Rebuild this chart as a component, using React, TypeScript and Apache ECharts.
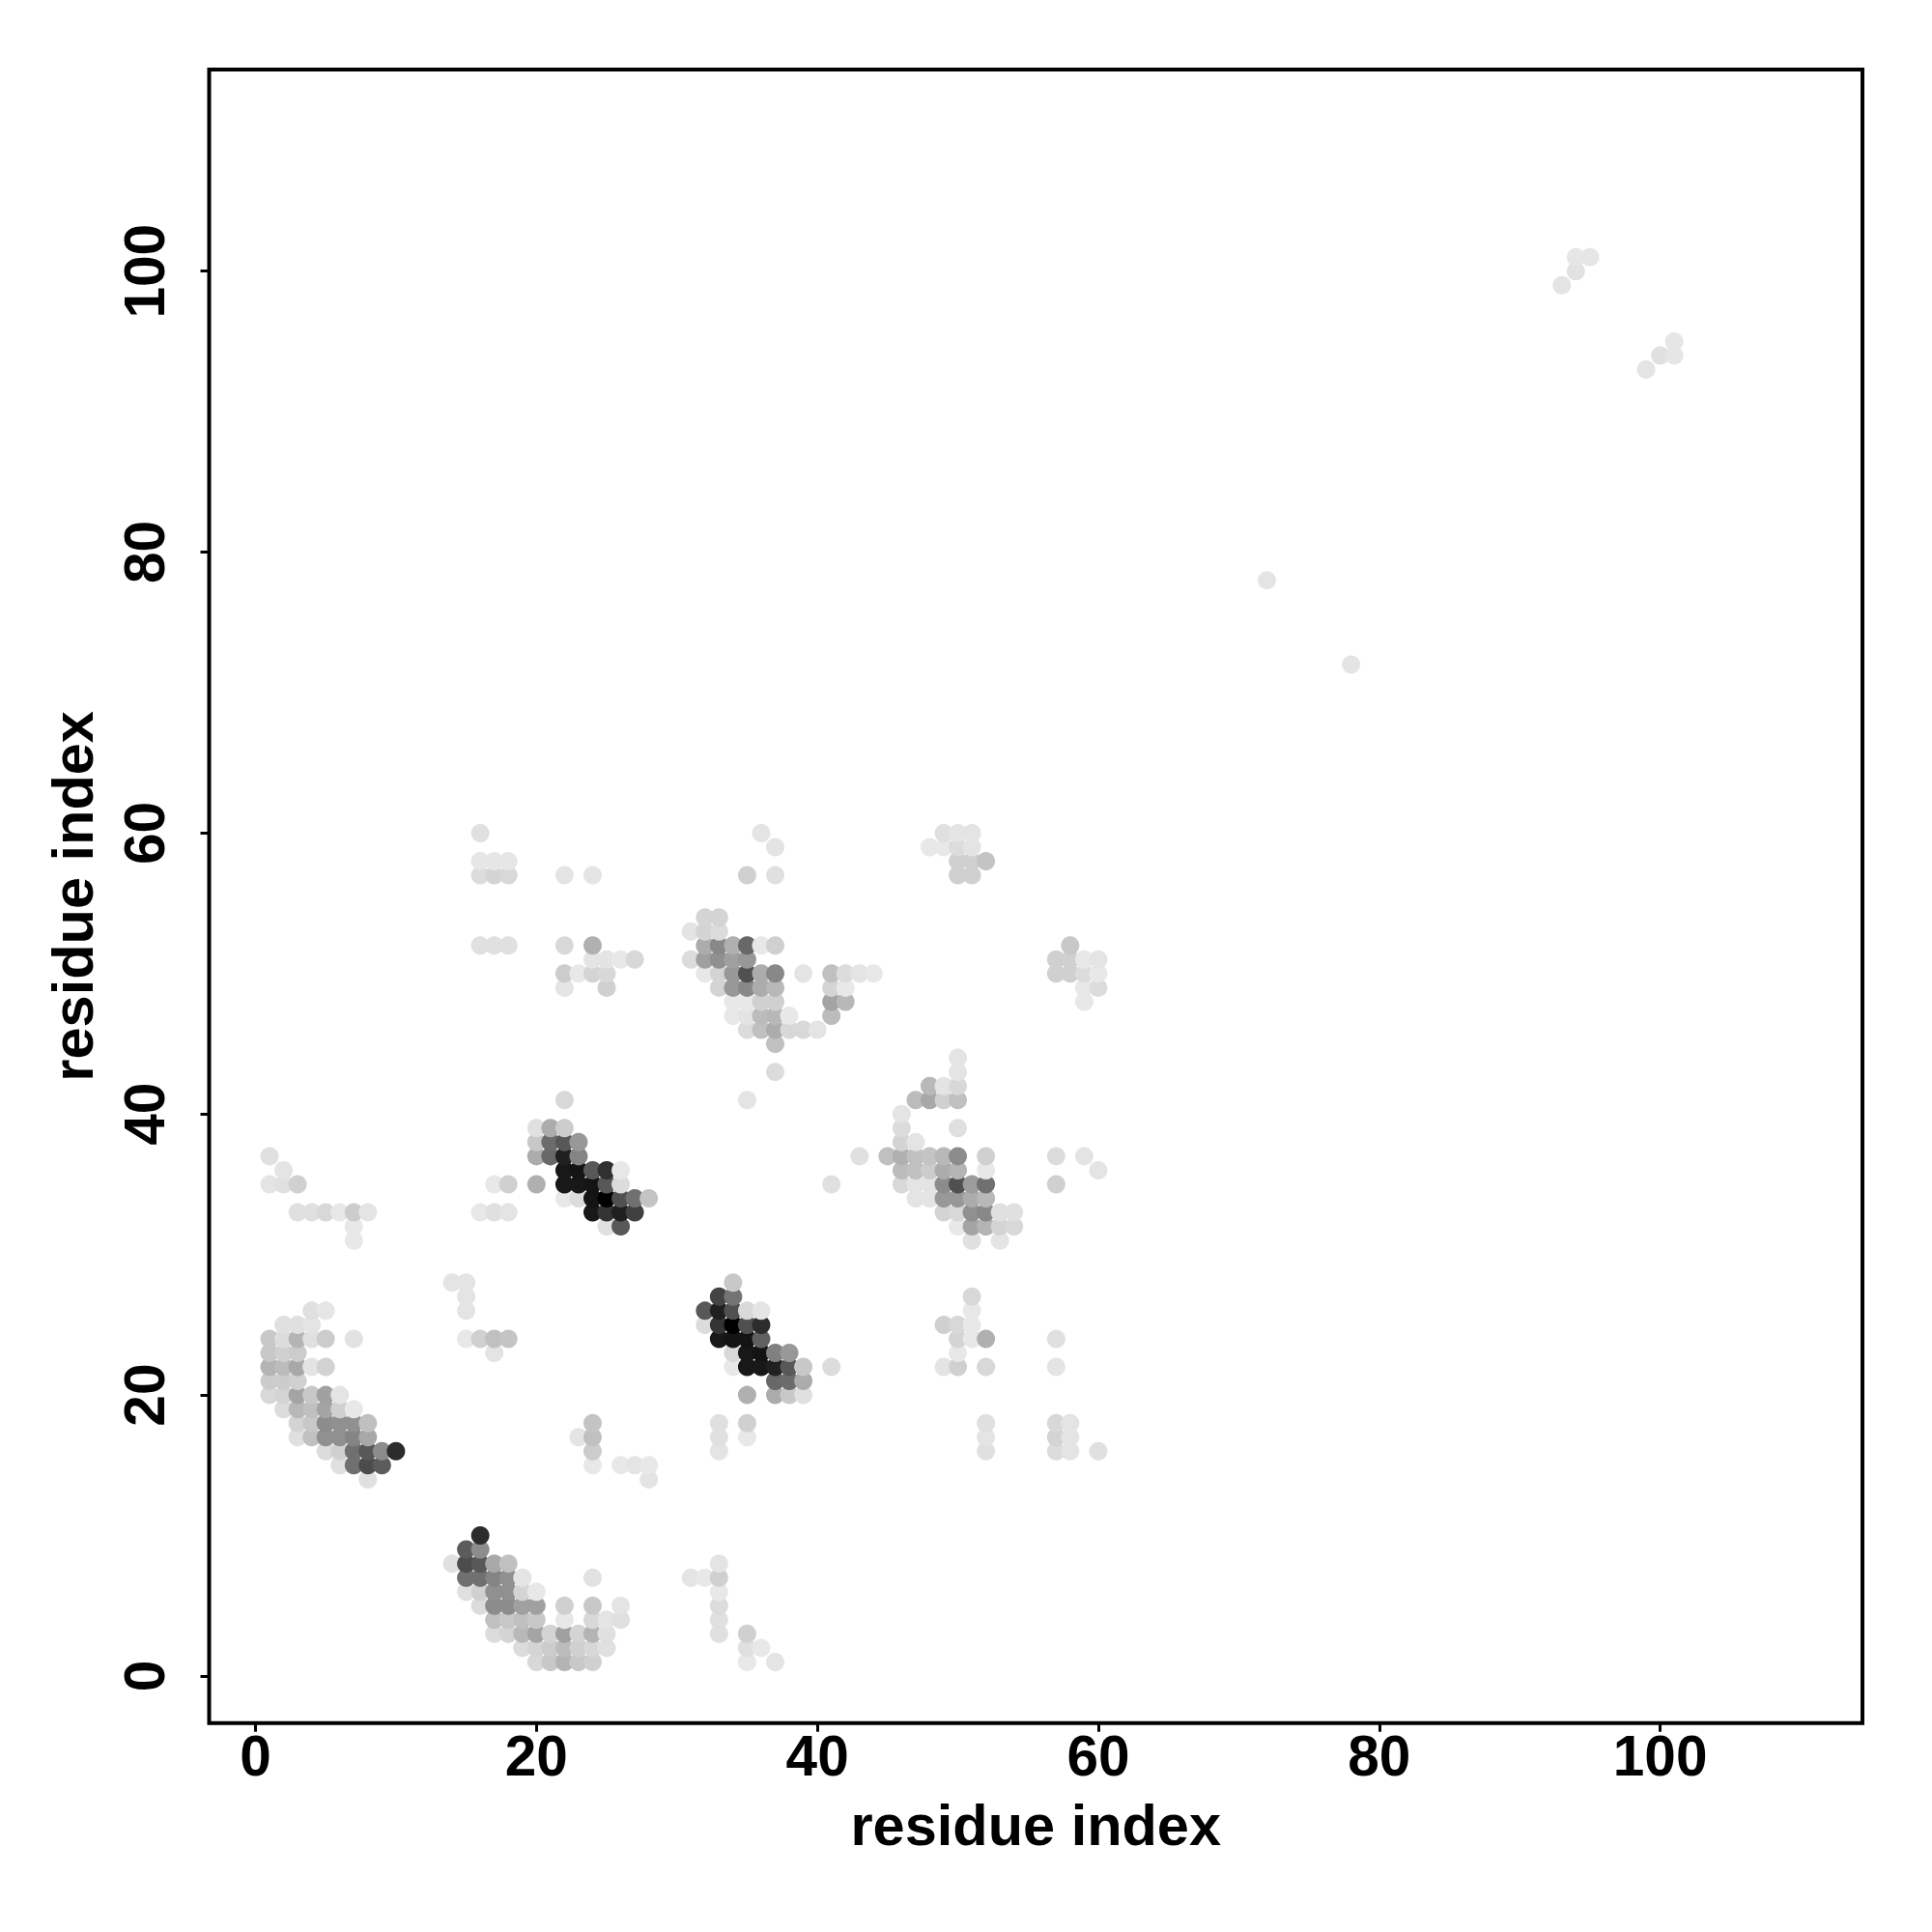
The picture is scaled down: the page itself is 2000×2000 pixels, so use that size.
import React, { useEffect, useRef } from "react";
import * as echarts from "echarts";

// Each contact: [residue i, residue j, grey level of the dot]
type Contact = [number, number, number];

const tickValues = [0, 20, 40, 60, 80, 100];
const axisTitle = "residue index";

const contactsA: Contact[] = [
  [4,26,0xe0],[5,26,0xe6],
  [2,25,0xe0],[3,25,0xe0],[4,25,0xe4],
  [1,24,0xc8],[2,24,0xdc],[3,24,0xb4],[4,24,0xe0],[5,24,0xcc],[7,24,0xe2],
  [1,23,0xc8],[2,23,0xd0],[3,23,0xcc],
  [1,22,0xb4],[2,22,0xbc],[3,22,0xa8],[4,22,0xe4],[5,22,0xd2],
  [1,21,0xcc],[2,21,0xcc],[3,21,0xd0],
  [1,20,0xd8],[2,20,0xd4],[3,20,0xa4],[4,20,0xc8],[5,20,0xa0],[6,20,0xe4],
  [2,19,0xdc],[3,19,0xb8],[4,19,0xc0],[5,19,0xa4],[6,19,0xd0],[7,19,0xe8],
  [3,18,0xd4],[4,18,0xc8],[5,18,0x8c],[6,18,0x90],[7,18,0x90],[8,18,0xc0],
  [3,17,0xe0],[4,17,0xc0],[5,17,0x90],[6,17,0x90],[7,17,0x84],[8,17,0xa8],
  [5,16,0xdc],[6,16,0xd0],[7,16,0x70],[8,16,0x58],[9,16,0x8c],[10,16,0x2c],
  [6,15,0xe0],[7,15,0x70],[8,15,0x4c],[9,15,0x5c],
  [8,14,0xe0],
];

const contactsB: Contact[] = [
  [16,10,0x2c],
  [15,9,0x5c],[16,9,0x8c],
  [14,8,0xe0],[15,8,0x4c],[16,8,0x58],[17,8,0xa8],[18,8,0xc0],
  [15,7,0x70],[16,7,0x70],[17,7,0x84],[18,7,0x90],[19,7,0xe4],[24,7,0xe2],
  [15,6,0xe0],[16,6,0xd0],[17,6,0x90],[18,6,0x90],[19,6,0xd4],[20,6,0xe8],
  [16,5,0xdc],[17,5,0x8c],[18,5,0x8c],[19,5,0xa0],[20,5,0xa0],[22,5,0xd0],[24,5,0xc8],[26,5,0xe4],
  [17,4,0xc0],[18,4,0xc8],[19,4,0xc0],[20,4,0xc8],[22,4,0xe8],[24,4,0xd8],[25,4,0xe4],[26,4,0xe0],
  [17,3,0xdc],[18,3,0xd4],[19,3,0xb8],[20,3,0xa4],[21,3,0xd4],[22,3,0xa0],[23,3,0xd4],[24,3,0xb4],[25,3,0xe0],
  [19,2,0xdc],[20,2,0xd4],[21,2,0xcc],[22,2,0xbc],[23,2,0xd0],[24,2,0xd8],[25,2,0xe0],
  [20,1,0xd8],[21,1,0xc8],[22,1,0xb4],[23,1,0xc8],[24,1,0xd0],
];

const contactsC: Contact[] = [
  [14,28,0xe4],[15,28,0xe4],[15,27,0xe4],[15,26,0xe4],
  [15,24,0xe8],[16,24,0xd0],[17,24,0xc0],[18,24,0xc4],[17,23,0xe4],
  [24,18,0xc4],[23,17,0xe4],[24,17,0xc0],[24,16,0xcc],
  [24,15,0xe8],[26,15,0xe8],[27,15,0xe4],[28,15,0xe8],[28,14,0xe4],
  [1,37,0xe0],[2,36,0xe4],[1,35,0xe4],[2,35,0xe0],[3,35,0xd0],
  [3,33,0xe0],[4,33,0xe0],[5,33,0xd8],[6,33,0xe8],[7,33,0xcc],[8,33,0xe4],
  [7,32,0xe8],[7,31,0xe8],
  [17,35,0xe8],[18,35,0xd0],[16,33,0xe8],[17,33,0xe0],[18,33,0xe4],
];

const contactsD: Contact[] = [
  [22,41,0xd8],
  [20,39,0xe0],[21,39,0xac],[22,39,0xcc],
  [20,38,0xc8],[21,38,0x6c],[22,38,0x58],[23,38,0x98],
  [20,37,0xac],[21,37,0x68],[22,37,0x20],[23,37,0x84],
  [22,36,0x18],[23,36,0x14],[24,36,0x58],[25,36,0x30],[26,36,0xe8],
  [20,35,0xb0],[22,35,0x18],[23,35,0x18],[24,35,0x14],[25,35,0x58],[26,35,0xdc],
  [22,34,0xe8],[23,34,0xdc],[24,34,0x14],[25,34,0x00],[26,34,0x50],[27,34,0x70],[28,34,0xc4],
  [24,33,0x18],[25,33,0x34],[26,33,0x20],[27,33,0x40],
  [25,32,0xe0],[26,32,0x58],
];

const contactsE: Contact[] = [
  [34,28,0xc8],
  [33,27,0x44],[34,27,0x74],
  [32,26,0x58],[33,26,0x20],[34,26,0x50],[35,26,0xd8],[36,26,0xe4],
  [32,25,0xdc],[33,25,0x34],[34,25,0x00],[35,25,0x50],[36,25,0x2c],
  [33,24,0x18],[34,24,0x14],[35,24,0x14],[36,24,0x60],
  [34,23,0xd8],[35,23,0x18],[36,23,0x14],[37,23,0x80],[38,23,0x98],
  [34,22,0xe8],[35,22,0x18],[36,22,0x18],[37,22,0x20],[38,22,0x58],[39,22,0xc8],[41,22,0xdc],
  [37,21,0x68],[38,21,0x6c],[39,21,0xac],
  [35,20,0xb0],[37,20,0xac],[38,20,0xc8],[39,20,0xe0],
];

const contactsF: Contact[] = [
  [51,27,0xd8],[51,26,0xe8],
  [49,25,0xd0],[50,25,0xd8],[51,25,0xe8],
  [50,24,0xd4],[51,24,0xe8],[52,24,0xb0],[57,24,0xe0],
  [50,23,0xe8],
  [49,22,0xe4],[50,22,0xd0],[52,22,0xd8],[57,22,0xe4],
  [33,18,0xe0],[35,18,0xd0],[52,18,0xe0],[57,18,0xd8],[58,18,0xe4],
  [33,17,0xe0],[35,17,0xe8],[52,17,0xe4],[57,17,0xd4],[58,17,0xe4],
  [33,16,0xe4],[52,16,0xe0],[57,16,0xdc],[58,16,0xe4],[60,16,0xe0],
  [33,8,0xe4],[31,7,0xe4],[32,7,0xe8],[33,7,0xd0],[33,6,0xe8],
  [33,5,0xdc],[33,4,0xe0],[33,3,0xe0],
  [35,3,0xd0],[35,2,0xe0],[36,2,0xe8],[35,1,0xe8],[37,1,0xe4],
];

const contactsG: Contact[] = [
  [16,60,0xe0],[16,58,0xe6],[17,58,0xe6],[18,58,0xe6],
  [16,57,0xdc],[17,57,0xd4],[18,57,0xd8],[22,57,0xe4],[24,57,0xe4],
  [16,52,0xe0],[17,52,0xe0],[18,52,0xe0],[22,52,0xd8],[24,52,0xb0],
  [24,51,0xe4],[25,51,0xe4],[26,51,0xe8],[27,51,0xd8],
  [22,50,0xcc],[23,50,0xe8],[24,50,0xd4],[25,50,0xd8],
  [22,49,0xe4],[25,49,0xd0],
];

const contactsH: Contact[] = [
  [36,60,0xe4],[37,59,0xe4],[35,57,0xd0],[37,57,0xe0],
  [32,54,0xd4],[33,54,0xd4],
  [31,53,0xe4],[32,53,0xd4],[33,53,0xdc],
  [32,52,0xac],[33,52,0x88],[34,52,0xb0],[35,52,0x68],[36,52,0xe8],[37,52,0xd0],
  [31,51,0xdc],[32,51,0xa0],[33,51,0x90],[34,51,0xa0],[35,51,0x98],
  [32,50,0xe8],[33,50,0xd4],[34,50,0x98],[35,50,0x50],[36,50,0xac],[37,50,0x88],[39,50,0xe4],
  [41,50,0xc0],[42,50,0xdc],[43,50,0xe4],[44,50,0xe8],
  [33,49,0xd4],[34,49,0x98],[35,49,0x88],[36,49,0xac],[37,49,0xb8],[41,49,0xd4],[42,49,0xe8],
  [34,48,0xe8],[35,48,0xe8],[36,48,0xd0],[37,48,0xd0],[41,48,0xa4],[42,48,0xb8],
  [34,47,0xe8],[35,47,0xe4],[36,47,0xbc],[37,47,0xb8],[38,47,0xe8],[41,47,0xbc],
  [35,46,0xdc],[36,46,0xc0],[37,46,0xac],[38,46,0xd8],[39,46,0xd8],[40,46,0xe4],
  [37,45,0xc0],[37,43,0xdc],[35,41,0xe4],
];

const contactsI: Contact[] = [
  [50,44,0xe4],[50,43,0xe4],
  [48,42,0xb8],[49,42,0xe4],[50,42,0xd8],
  [47,41,0xbc],[48,41,0xa8],[49,41,0xd0],[50,41,0xc0],
  [46,40,0xe4],[46,39,0xdc],[50,39,0xe0],[46,38,0xd4],[47,38,0xe4],
  [43,37,0xe0],[45,37,0xc0],[46,37,0xb0],[47,37,0xc0],[48,37,0xc4],[49,37,0xb8],[50,37,0x8c],[52,37,0xd0],[57,37,0xdc],[59,37,0xe4],
  [46,36,0xbc],[47,36,0xc0],[48,36,0xcc],[49,36,0xac],[50,36,0xb4],[52,36,0xe8],[60,36,0xe4],
  [41,35,0xe0],[46,35,0xd8],[47,35,0xe4],[48,35,0xe4],[49,35,0x8c],[50,35,0x50],[51,35,0x9c],[52,35,0x70],[57,35,0xd0],
  [47,34,0xe4],[48,34,0xe4],[49,34,0x98],[50,34,0x98],[51,34,0xac],[52,34,0xb8],
  [49,33,0xd4],[50,33,0xd8],[51,33,0x90],[52,33,0x88],[53,33,0xe0],[54,33,0xe0],
  [50,32,0xe8],[51,32,0xa4],[52,32,0xb4],[53,32,0xd4],[54,32,0xd8],
  [51,31,0xe0],[53,31,0xe4],
];

const contactsJ: Contact[] = [
  [49,60,0xe0],[50,60,0xe4],[51,60,0xe4],
  [48,59,0xe8],[49,59,0xe8],[50,59,0xdc],[51,59,0xe4],
  [50,58,0xd0],[51,58,0xd0],[52,58,0xc4],
  [50,57,0xd0],[51,57,0xd0],
  [58,52,0xc8],
  [57,51,0xd0],[58,51,0xd0],[59,51,0xe8],[60,51,0xe4],
  [57,50,0xd0],[58,50,0xd0],[59,50,0xdc],[60,50,0xe8],
  [59,49,0xe8],[60,49,0xdc],[59,48,0xe8],
];

const contactsK: Contact[] = [
  [72,78,0xe4],[78,72,0xe4],
  [93,99,0xe4],[94,100,0xe2],[94,101,0xe6],[95,101,0xe6],
  [99,93,0xe4],[100,94,0xe0],[101,94,0xe6],[101,95,0xe6],
];

const allContacts: Contact[] = [
  ...contactsA, ...contactsB, ...contactsC, ...contactsD, ...contactsE, ...contactsF,
  ...contactsG, ...contactsH, ...contactsI, ...contactsJ, ...contactsK,
].sort((p, q) => p[0] - q[0] || p[1] - q[1]);

const font = "'Liberation Sans', Arial, sans-serif";

export default function App() {
  const ref = useRef<HTMLDivElement>(null);
  useEffect(() => {
    const chart = echarts.init(ref.current!, undefined, { renderer: "svg" });
    const tickText = { color: "#000", fontFamily: font, fontWeight: "bold" as const, fontSize: 58.5 };
    const titleText = { ...tickText, fontSize: 59.5 };
    const tick = { show: true, length: 9, customValues: tickValues, lineStyle: { color: "#000", width: 3 } };
    const line = { show: false, onZero: false };
    chart.setOption({
      animation: false,
      backgroundColor: "#fff",
      grid: {
        show: true, left: 216.5, top: 72, width: 1711.5, height: 1711.7,
        borderColor: "#000", borderWidth: 4, backgroundColor: "#fff", containLabel: false,
      },
      xAxis: {
        type: "value", min: -3.3, max: 114.4, splitLine: { show: false }, axisLine: line,
        axisTick: tick,
        axisLabel: { ...tickText, margin: 4, customValues: tickValues, formatter: (v: number) => String(v) },
        name: axisTitle, nameLocation: "middle", nameGap: 76, nameTextStyle: titleText,
      },
      yAxis: {
        type: "value", min: -3.35, max: 114.35, splitLine: { show: false }, axisLine: line,
        axisTick: tick,
        axisLabel: { ...tickText, margin: 38, rotate: 90, customValues: tickValues, formatter: (v: number) => String(v) },
        name: axisTitle, nameLocation: "middle", nameGap: 111, nameRotate: 90, nameTextStyle: titleText,
      },
      series: [{
        type: "scatter",
        symbol: "circle",
        symbolSize: 19,
        clip: true,
        data: allContacts.map(([i, j, g]) => ({
          value: [i, j],
          itemStyle: { color: `rgb(${g},${g},${g})`, opacity: 1 },
        })),
      }],
    });
    return () => chart.dispose();
  }, []);
  return <div ref={ref} style={{ position: "absolute", left: 0, top: 0, width: 2000, height: 2000 }} />;
}
